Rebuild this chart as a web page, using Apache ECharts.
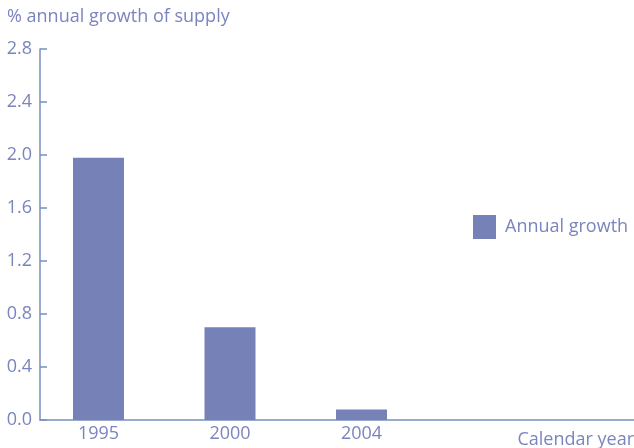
<!DOCTYPE html>
<html><head><meta charset="utf-8">
<script src="https://cdn.jsdelivr.net/npm/echarts@6/dist/echarts.min.js"></script>
<style>html,body{margin:0;padding:0;background:#fff}#c{width:634px;height:448px}</style>
</head><body><div id="c"></div>
<script>
const categories = ['1995', '2000', '2004', '', ''];
const growth = [1.98, 0.70, 0.08, null, null];
const yTicks = { min: 0, max: 2.8, interval: 0.4 };
const seriesName = 'Annual growth';
const yTitle = '% annual growth of supply';
const xTitle = 'Calendar year';

const txt = '#7a84bf', axisCol = '#7590c0', barCol = '#7681b8';
const font = 'Open Sans';
const fs = 18;
const chart = echarts.init(document.getElementById('c'));
chart.setOption({
  animation: false,
  textStyle: { fontFamily: font },
  title: [
    { text: yTitle, left: 2, top: 3, textStyle: { color: txt, fontSize: fs, fontWeight: 'normal', fontFamily: font } },
    { text: xTitle, right: -5, bottom: -6, textStyle: { color: txt, fontSize: fs, fontWeight: 'normal', fontFamily: font } }
  ],
  legend: {
    data: [seriesName], left: 468, top: 210, itemWidth: 23, itemHeight: 24, itemGap: 8,
    textStyle: { color: txt, fontSize: fs, fontFamily: font, padding: [0, 0, 0, 4] }, icon: 'rect'
  },
  grid: [
    { left: 32.75, top: 49, bottom: 28, width: 657.5, outerBoundsMode: 'none' },
    { left: 40, top: 49, bottom: 28, right: 0, outerBoundsMode: 'none' }
  ],
  xAxis: [
    { type: 'category', gridIndex: 0, data: categories, axisLine: { show: false }, axisTick: { show: false },
      axisLabel: { color: txt, fontSize: fs, margin: 5, fontFamily: font } },
    { type: 'category', gridIndex: 1, data: [''], axisLine: { lineStyle: { color: axisCol, width: 1.5 } },
      axisTick: { show: false }, axisLabel: { show: false } }
  ],
  yAxis: [
    { type: 'value', gridIndex: 0, min: yTicks.min, max: yTicks.max, interval: yTicks.interval, show: false },
    { type: 'value', gridIndex: 1, min: yTicks.min, max: yTicks.max, interval: yTicks.interval,
      axisLine: { show: true, lineStyle: { color: axisCol, width: 1.5 } },
      axisTick: { show: true, inside: true, length: 7, lineStyle: { color: axisCol, width: 1.5 } },
      splitLine: { show: false },
      axisLabel: { color: txt, fontSize: fs, margin: 8, fontFamily: font, formatter: v => v.toFixed(1) } }
  ],
  series: [
    { name: seriesName, type: 'bar', xAxisIndex: 0, yAxisIndex: 0, data: growth, barWidth: 51,
      itemStyle: { color: barCol } }
  ]
});
</script></body></html>
